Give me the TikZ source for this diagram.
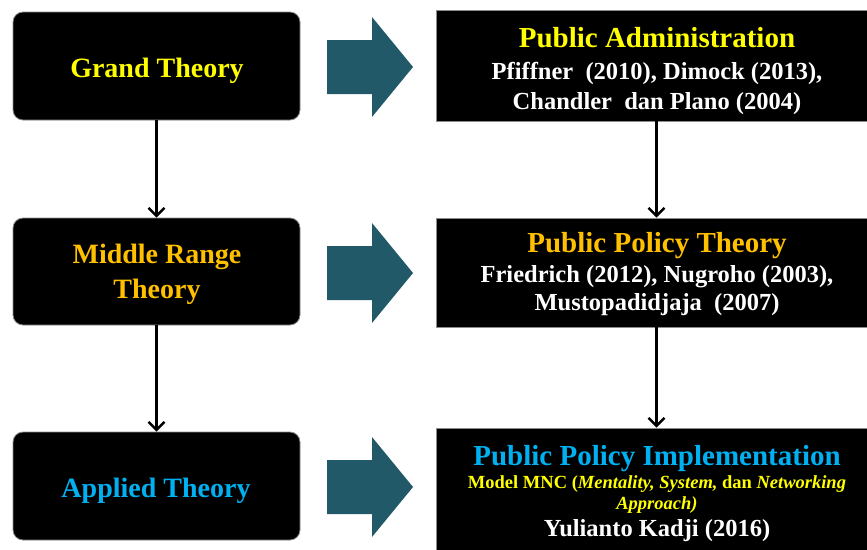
\documentclass[tikz,border=0pt]{standalone}
\usepackage{fontspec}
\setmainfont{Liberation Serif}
\usetikzlibrary{arrows.meta}
\definecolor{arrteal}{HTML}{215968}
\definecolor{tyellow}{HTML}{FFFF00}
\definecolor{torange}{HTML}{FFC000}
\definecolor{tblue}{HTML}{00B0F0}
\definecolor{bordergray}{HTML}{8C8C8C}
\tikzset{
  leftbox/.style={draw=bordergray, line width=0.8pt, fill=black, rounded corners=10pt,
    minimum width=287pt, minimum height=108pt, inner sep=0pt},
  lefttext/.style={inner sep=0pt, align=center, font=\bfseries\fontsize{28}{35}\selectfont},
  rightbox/.style={draw=bordergray, line width=0.8pt, fill=black, minimum width=440pt, inner sep=0pt},
  conn/.style={draw=black, line width=2.4pt, -{Straight Barb[length=8pt,width=16pt,line width=2.4pt]}},
  blockarrow/.style={fill=arrteal},
  hd/.style={anchor=base, inner sep=0pt, font=\bfseries\fontsize{29}{33}\selectfont},
  refs/.style={anchor=base, inner sep=0pt, text=white, font=\bfseries\fontsize{24.5}{28}\selectfont},
  model/.style={anchor=base, inner sep=0pt, text=tyellow, font=\bfseries\fontsize{18.5}{21}\selectfont}
}
\begin{document}
\begin{tikzpicture}[x=1pt,y=-1pt]
\useasboundingbox (0,0) rectangle (867,549);
% left boxes
\node[leftbox] (gt) at (156.5,66) {};
\node[leftbox, minimum height=107pt] (mr) at (156.5,271.5) {};
\node[leftbox] (at) at (156.5,486) {};
\node[lefttext, text=tyellow, anchor=base] (gtt) at (157,77) {Grand Theory};
\node[lefttext, text=torange, anchor=base] (mrt1) at (157,263) {Middle Range};
\node[lefttext, text=torange, anchor=base] (mrt2) at (157,298) {Theory};
\node[lefttext, text=tblue, anchor=base] (att) at (156,497) {Applied Theory};
% right boxes
\node[rightbox, minimum height=111pt] (pa) at (656.5,65.5) {};
\node[rightbox, minimum height=109pt] (pp) at (656.5,272.5) {};
\node[rightbox, minimum height=132pt] (pi) at (656.5,494) {};
% block arrows
\foreach \c in {67,273,487}{
  \fill[blockarrow] (327,{\c-27}) -- (372,{\c-27}) -- (372,{\c-50}) -- (413,\c)
     -- (372,{\c+50}) -- (372,{\c+27}) -- (327,{\c+27}) -- cycle;
}
% texts right
\node[hd, text=tyellow] (pa1) at (657,47) {Public Administration};
\node[refs] (pa2) at (657,79) {Pfiffner~ (2010), Dimock (2013),};
\node[refs] (pa3) at (657,109) {Chandler~ dan Plano (2004)};
\node[hd, text=torange] (pp1) at (657,252) {Public Policy Theory};
\node[refs] (pp2) at (657,282) {Friedrich (2012), Nugroho (2003),};
\node[refs] (pp3) at (657,310) {Mustopadidjaja~ (2007)};
\node[hd, text=tblue] (pi1) at (657,465) {Public Policy Implementation};
\node[model] (pi2) at (657,488) {Model MNC (\textit{Mentality, System,} dan \textit{Networking}};
\node[model] (pi3) at (657,509) {\textit{Approach)}};
\node[refs] (pi4) at (657,536) {Yulianto Kadji (2016)};
% connectors
\draw[conn] (gt.south) -- (mr.north);
\draw[conn] (mr.south) -- (at.north);
\draw[conn] (pa.south) -- (pp.north);
\draw[conn] (pp.south) -- (pi.north);
\end{tikzpicture}
\end{document}
